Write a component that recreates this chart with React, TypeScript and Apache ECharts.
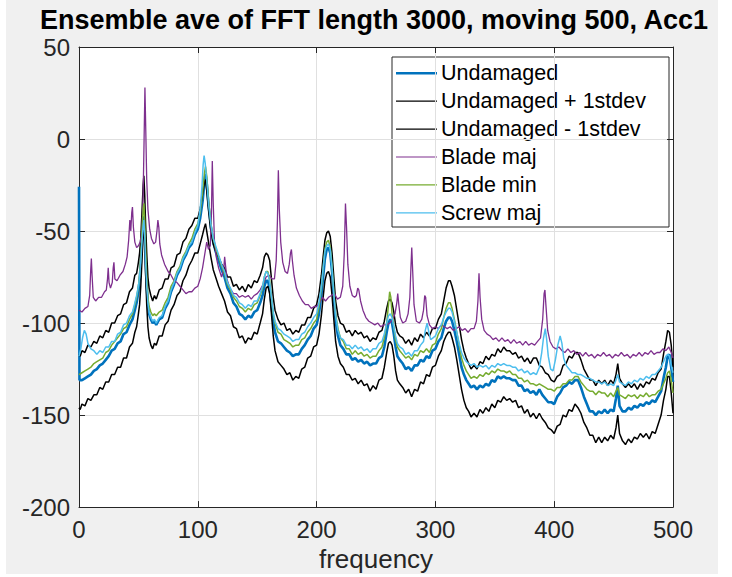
import React, { useEffect, useRef } from "react";
import * as echarts from "echarts";

type Pt = [number, number];

const FONT = '"Liberation Sans", Arial, Helvetica, sans-serif';
const TITLE = "Ensemble ave of FFT length 3000, moving 500, Acc1";
const X_LABEL = "frequency";

const seriesNames = [
  "Undamaged",
  "Undamaged + 1stdev",
  "Undamaged - 1stdev",
  "Blade maj",
  "Blade min",
  "Screw maj",
];
const seriesColors = ["#0072BD", "#000000", "#000000", "#7E2F8E", "#77AC30", "#4DBEEE"];
const seriesWidths = [2.6, 1.5, 1.5, 1.3, 1.5, 1.5];

const xTicks = [0, 100, 200, 300, 400, 500];
const yTicks = [-200, -150, -100, -50, 0, 50];

// [frequency, dB]
const undamaged: Pt[] = [
  [0,-26],[0.4,-131],[2.5,-131],[5,-130],[7.5,-129],[10,-128],[12.5,-126],[15,-125],[17.5,-123],[20,-122],[22.5,-120],[25,-118],[27.5,-115],[30,-114],[32.5,-111],[35,-110],[37.5,-106],[40,-105],[42.5,-101],[45,-98],[47,-93],[48.5,-89],[50,-83],[51,-77],[52,-68],[53,-56],[54,-45],[54.6,-42],[55.3,-50],[56,-65],[57,-80],[58,-90],[59,-95],[60.5,-98],[62,-100],[63.5,-99],[65,-101],[67.5,-98],[70,-97],[72.5,-92],[75,-89],[77.5,-83],[80,-79],[82.5,-74],[85,-71],[87.5,-66],[90,-63],[92.5,-59],[95,-57],[97.5,-52],[100,-49],[102,-43],[104,-34],[105.5,-24],[106.5,-19],[107.5,-24],[109,-36],[111,-48],[113,-56],[115,-61],[117.5,-66],[120,-71],[122.5,-75],[125,-81],[127.5,-84],[130,-89],[132.5,-91],[135,-95],[137.5,-96],[140,-98],[142.5,-96],[145,-97],[147.5,-94],[150,-93],[152.5,-89],[154.5,-85],[156,-80],[157.5,-77],[159,-77],[160.5,-81],[162,-90],[163.5,-99],[165,-105],[167.5,-110],[170,-111],[172.5,-113],[175,-115],[177.5,-116],[180,-118],[182.5,-117],[185,-117],[187.5,-114],[190,-112],[192.5,-109],[195,-107],[197.5,-103],[200,-101],[202,-95],[204,-85],[205.5,-75],[207,-65],[208.5,-60],[210,-59],[211.5,-62],[213,-72],[214.5,-86],[216,-99],[218,-107],[220,-112],[222.5,-114],[225,-117],[227.5,-117],[230,-120],[232.5,-119],[235,-121],[237.5,-120],[240,-122],[242.5,-121],[245,-123],[247.5,-122],[250,-122],[252.5,-119],[255,-118],[257,-113],[259,-105],[260.5,-100],[262,-98],[263.5,-100],[265,-106],[266.5,-113],[268,-118],[270,-120],[272.5,-122],[275,-125],[277.5,-124],[280,-126],[282.5,-123],[285,-123],[287.5,-120],[290,-121],[292.5,-118],[295,-119],[297.5,-115],[300,-114],[302.5,-110],[305,-108],[307,-103],[309,-99],[311,-97],[312.5,-97],[314,-99],[316,-104],[318,-110],[320,-117],[322,-124],[324,-128],[326,-131],[328,-133],[330,-135],[332.5,-134],[335,-136],[337.5,-134],[340,-135],[342.5,-133],[345,-134],[347.5,-131],[350,-132],[352.5,-129],[355,-130],[357.5,-129],[360,-130],[362.5,-130],[365,-131],[367.5,-131],[370,-134],[372.5,-134],[375,-137],[377.5,-136],[380,-138],[382.5,-137],[385,-139],[387.5,-136],[390,-139],[392.5,-141],[395,-143],[397.5,-143],[400,-144],[402.5,-140],[405,-138],[407.5,-135],[410,-134],[412.5,-132],[415,-133],[417.5,-131],[420,-131],[422.5,-135],[425,-140],[427.5,-144],[430,-148],[432.5,-148],[435,-150],[437.5,-148],[440,-149],[442.5,-147],[445,-149],[447.5,-147],[450,-148],[452,-141],[453.5,-134],[455,-145],[457.5,-148],[460,-148],[462.5,-146],[465,-147],[467.5,-145],[470,-146],[472.5,-144],[475,-145],[477.5,-143],[480,-144],[482.5,-142],[485,-143],[487.5,-140],[490,-137],[492,-130],[494,-124],[495.5,-118],[497,-117],[498.5,-124],[500,-132],
];

const upperStd: Pt[] = [
  [0,-117],[1,-118],[2.5,-115],[5,-116],[7.5,-112],[10,-113],[12.5,-110],[15,-111],[17.5,-107],[20,-108],[22.5,-104],[25,-105],[27.5,-100],[30,-100],[32.5,-96],[35,-95],[37.5,-90],[40,-89],[42.5,-83],[45,-81],[47,-74],[48.5,-73],[50,-67],[51,-62],[52,-54],[53,-40],[54,-25],[54.6,-20],[55.3,-30],[56,-45],[57,-62],[58,-75],[59,-81],[60.5,-85],[62,-88],[63.5,-85],[65,-87],[67.5,-82],[70,-81],[72.5,-76],[75,-76],[77.5,-70],[80,-69],[82.5,-63],[85,-62],[87.5,-56],[90,-54],[92.5,-49],[95,-47],[97.5,-43],[100,-43],[102,-38],[104,-30],[105.5,-24],[106.5,-22],[107.5,-28],[109,-38],[111,-50],[113,-57],[115,-61],[117.5,-64],[120,-68],[122.5,-70],[125,-75],[127.5,-75],[130,-80],[132.5,-79],[135,-82],[137.5,-80],[140,-83],[142.5,-79],[145,-81],[147.5,-77],[150,-78],[152.5,-74],[154.5,-70],[156,-64],[157.5,-62],[159,-63],[160.5,-66],[162,-76],[163.5,-86],[165,-93],[167.5,-98],[170,-101],[172.5,-100],[175,-104],[177.5,-103],[180,-106],[182.5,-104],[185,-105],[187.5,-101],[190,-101],[192.5,-97],[195,-97],[197.5,-92],[200,-90],[202,-84],[204,-74],[205.5,-64],[207,-55],[208.5,-51],[210,-50],[211.5,-53],[213,-62],[214.5,-75],[216,-88],[218,-96],[220,-100],[222.5,-101],[225,-105],[227.5,-104],[230,-107],[232.5,-104],[235,-106],[237.5,-105],[240,-108],[242.5,-107],[245,-110],[247.5,-108],[250,-109],[252.5,-105],[255,-104],[257,-99],[259,-92],[260.5,-88],[262,-87],[263.5,-89],[265,-94],[266.5,-101],[268,-105],[270,-107],[272.5,-108],[275,-111],[277.5,-109],[280,-112],[282.5,-108],[285,-110],[287.5,-106],[290,-108],[292.5,-105],[295,-107],[297.5,-103],[300,-103],[302.5,-98],[305,-95],[307,-88],[309,-81],[311,-77],[312.5,-77],[314,-80],[316,-85],[318,-93],[320,-101],[322,-109],[324,-115],[326,-119],[328,-122],[330,-125],[332.5,-123],[335,-125],[337.5,-121],[340,-122],[342.5,-118],[345,-120],[347.5,-117],[350,-118],[352.5,-114],[355,-116],[357.5,-113],[360,-115],[362.5,-115],[365,-117],[367.5,-116],[370,-119],[372.5,-118],[375,-121],[377.5,-119],[380,-122],[382.5,-119],[385,-119],[387.5,-123],[390,-124],[392.5,-127],[395,-128],[397.5,-131],[400,-132],[402.5,-129],[405,-128],[407.5,-123],[410,-122],[412.5,-118],[415,-119],[417.5,-116],[420,-116],[422.5,-120],[425,-125],[427.5,-128],[430,-131],[432.5,-131],[435,-134],[437.5,-131],[440,-133],[442.5,-131],[445,-134],[447.5,-131],[450,-133],[452,-128],[453.5,-122],[455,-130],[457.5,-133],[460,-135],[462.5,-133],[465,-135],[467.5,-133],[470,-136],[472.5,-133],[475,-135],[477.5,-132],[480,-133],[482.5,-130],[485,-131],[487.5,-127],[490,-125],[492,-117],[494,-110],[495.5,-104],[497,-105],[498.5,-112],[500,-124],
];

const lowerStd: Pt[] = [
  [0,-146],[1,-147],[2.5,-144],[5,-145],[7.5,-141],[10,-142],[12.5,-139],[15,-139],[17.5,-135],[20,-136],[22.5,-132],[25,-132],[27.5,-128],[30,-128],[32.5,-124],[35,-124],[37.5,-119],[40,-119],[42.5,-113],[45,-111],[47,-105],[48.5,-102],[50,-95],[51,-90],[52,-80],[53,-66],[54,-52],[54.6,-47],[55.3,-55],[56,-72],[57,-90],[58,-102],[59,-108],[60.5,-112],[62,-114],[63.5,-111],[65,-112],[67.5,-107],[70,-107],[72.5,-101],[75,-99],[77.5,-93],[80,-90],[82.5,-85],[85,-83],[87.5,-77],[90,-74],[92.5,-69],[95,-66],[97.5,-62],[100,-62],[102,-57],[104,-52],[105.5,-48],[106.5,-46],[107.5,-50],[109,-56],[111,-64],[113,-71],[115,-75],[117.5,-80],[120,-84],[122.5,-88],[125,-94],[127.5,-96],[130,-102],[132.5,-103],[135,-108],[137.5,-107],[140,-111],[142.5,-108],[145,-109],[147.5,-105],[150,-106],[152.5,-100],[154.5,-95],[156,-87],[157.5,-81],[159,-80],[160.5,-84],[162,-95],[163.5,-107],[165,-115],[167.5,-121],[170,-123],[172.5,-125],[175,-128],[177.5,-127],[180,-131],[182.5,-129],[185,-130],[187.5,-125],[190,-124],[192.5,-119],[195,-118],[197.5,-113],[200,-112],[202,-106],[204,-96],[205.5,-86],[207,-77],[208.5,-73],[210,-72],[211.5,-75],[213,-85],[214.5,-98],[216,-110],[218,-118],[220,-122],[222.5,-124],[225,-128],[227.5,-128],[230,-131],[232.5,-130],[235,-133],[237.5,-131],[240,-134],[242.5,-133],[245,-137],[247.5,-134],[250,-136],[252.5,-131],[255,-130],[257,-124],[259,-116],[260.5,-111],[262,-110],[263.5,-112],[265,-118],[266.5,-126],[268,-131],[270,-133],[272.5,-135],[275,-138],[277.5,-136],[280,-140],[282.5,-136],[285,-137],[287.5,-132],[290,-133],[292.5,-128],[295,-129],[297.5,-124],[300,-123],[302.5,-118],[305,-115],[307,-110],[309,-107],[311,-105],[312.5,-105],[314,-108],[316,-113],[318,-120],[320,-128],[322,-136],[324,-142],[326,-146],[328,-148],[330,-151],[332.5,-149],[335,-151],[337.5,-147],[340,-149],[342.5,-146],[345,-148],[347.5,-144],[350,-146],[352.5,-142],[355,-143],[357.5,-140],[360,-142],[362.5,-141],[365,-143],[367.5,-142],[370,-146],[372.5,-145],[375,-149],[377.5,-147],[380,-151],[382.5,-149],[385,-152],[387.5,-149],[390,-152],[392.5,-154],[395,-157],[397.5,-158],[400,-160],[402.5,-156],[405,-155],[407.5,-150],[410,-151],[412.5,-147],[415,-148],[417.5,-144],[420,-146],[422.5,-149],[425,-154],[427.5,-157],[430,-161],[432.5,-161],[435,-165],[437.5,-162],[440,-165],[442.5,-162],[445,-164],[447.5,-161],[450,-163],[452,-157],[453.5,-150],[455,-160],[457.5,-164],[460,-166],[462.5,-163],[465,-165],[467.5,-162],[470,-163],[472.5,-160],[475,-162],[477.5,-160],[480,-163],[482.5,-159],[485,-160],[487.5,-155],[490,-150],[492,-142],[494,-136],[495.5,-129],[497,-129],[498.5,-138],[500,-149],
];

const bladeMaj: Pt[] = [
  [0,-93],[2.5,-94],[5,-92],[7.5,-91],[9,-85],[9.8,-72],[10.4,-65],[11,-74],[12,-86],[14,-88],[16.5,-86],[19,-86],[21.5,-83],[23,-82],[24,-76],[24.6,-70],[25.3,-78],[26.5,-81],[28,-78],[28.8,-70],[29.4,-67],[30.2,-76],[32,-77],[34.5,-74],[37,-72],[39,-68],[40.5,-64],[41.8,-55],[42.8,-44],[43.6,-50],[44.4,-40],[45,-37],[45.8,-48],[47,-56],[48.5,-59],[50,-58],[51.5,-56],[53,-50],[54,-30],[54.8,0],[55.5,28],[56.2,5],[57,-22],[58,-38],[59.5,-49],[61,-54],[63,-57],[64.5,-56],[65.6,-50],[66.4,-44],[67.2,-48],[68,-57],[69.5,-63],[72,-68],[75,-72],[77.5,-74],[80,-77],[82.5,-78],[85,-80],[87.5,-82],[90,-84],[92.5,-83],[95,-83],[97.5,-81],[100,-80],[102,-76],[104,-70],[106,-62],[107.5,-56],[109,-60],[110.5,-58],[111.5,-40],[112.2,-12],[113,-35],[114,-55],[115.5,-64],[117.5,-70],[120,-75],[121.8,-71],[122.6,-64],[123.4,-69],[124.5,-76],[127,-81],[130,-84],[132.5,-84],[135,-86],[137.5,-85],[140,-86],[142.5,-85],[145,-87],[147.5,-85],[150,-84],[152.5,-82],[155,-79],[157.5,-75],[160,-74],[162.5,-76],[164.5,-76],[166,-66],[167,-45],[167.8,-17],[168.6,-38],[169.8,-56],[171.5,-67],[173.5,-72],[175.5,-73],[177,-68],[178,-62],[178.8,-60],[179.6,-66],[181,-74],[183,-81],[185.5,-85],[188,-88],[190.5,-90],[193,-90],[195.5,-92],[198,-91],[200,-91],[202.5,-89],[205,-86],[207.5,-88],[210,-86],[212.5,-85],[215,-84],[217.5,-87],[220,-86],[222,-80],[223.3,-62],[224.3,-35],[225.2,-48],[226.3,-68],[228,-80],[230,-85],[232,-86],[233.5,-85],[234.6,-81],[235.5,-82],[237,-88],[239,-93],[241.5,-97],[244,-99],[246.5,-100],[249,-101],[251.5,-100],[254,-102],[256.5,-101],[259,-101],[261.5,-100],[264,-98],[266,-95],[267.5,-89],[268.3,-84],[269.2,-90],[270.5,-97],[272.5,-100],[275,-99],[277,-95],[278.5,-86],[279.4,-70],[280.1,-59],[280.9,-72],[282,-90],[284,-99],[286.5,-100],[288.5,-98],[290,-93],[291,-85],[291.8,-86],[293,-96],[295,-101],[297.5,-103],[300,-102],[302.5,-103],[305,-101],[307.5,-102],[310,-103],[312.5,-102],[315,-104],[317.5,-103],[320,-102],[322.5,-104],[325,-103],[327.5,-105],[330,-103],[332.5,-103],[334.5,-99],[335.8,-88],[336.7,-73],[337.6,-86],[339,-98],[341,-104],[343.5,-106],[346,-107],[348.5,-109],[351,-108],[353.5,-110],[356,-108],[358.5,-110],[361,-109],[363.5,-111],[366,-109],[368.5,-111],[371,-110],[373.5,-112],[376,-110],[378.5,-112],[381,-111],[383.5,-112],[386,-110],[388.5,-108],[390.3,-98],[391.5,-84],[392.2,-82],[393,-90],[394.5,-104],[396.5,-110],[399,-113],[401.5,-114],[404,-113],[406.5,-115],[409,-116],[411.5,-114],[414,-116],[416.5,-115],[419,-117],[421.5,-116],[424,-118],[426.5,-116],[429,-118],[431.5,-117],[434,-119],[436.5,-117],[439,-118],[441.5,-116],[444,-118],[446.5,-117],[449,-119],[451.5,-117],[454,-118],[456.5,-116],[459,-118],[461.5,-117],[464,-119],[466.5,-117],[469,-118],[471.5,-116],[474,-118],[476.5,-116],[479,-117],[481.5,-115],[484,-117],[486.5,-116],[489,-116],[491.5,-114],[494,-115],[496.5,-113],[498.5,-116],[500,-119],
];

const bladeMin: Pt[] = [
  [0,-128],[2.5,-127],[5,-126],[7.5,-125],[10,-124],[12.5,-122],[15,-121],[17.5,-120],[20,-119],[22.5,-116],[25,-115],[27.5,-112],[30,-110],[32.5,-108],[35,-106],[37.5,-103],[40,-102],[42.5,-98],[45,-95],[47,-90],[48.5,-86],[50,-80],[51,-74],[52,-64],[53,-50],[54,-38],[54.6,-35],[55.3,-44],[56,-58],[57,-75],[58,-86],[59,-91],[60.5,-94],[62,-96],[63.5,-95],[65,-96],[67.5,-94],[70,-93],[72.5,-89],[75,-86],[77.5,-80],[80,-77],[82.5,-72],[85,-69],[87.5,-64],[90,-61],[92.5,-57],[95,-54],[97.5,-49],[100,-46],[102,-40],[104,-29],[105.5,-19],[106.5,-15],[107.5,-20],[109,-33],[111,-46],[113,-54],[115,-59],[117.5,-64],[120,-69],[122.5,-73],[125,-79],[127.5,-82],[130,-86],[132.5,-88],[135,-91],[137.5,-92],[140,-94],[142.5,-92],[145,-93],[147.5,-90],[150,-89],[152.5,-85],[154.5,-81],[156,-75],[157.5,-72],[159,-72],[160.5,-77],[162,-86],[163.5,-95],[165,-100],[167.5,-105],[170,-106],[172.5,-109],[175,-110],[177.5,-111],[180,-113],[182.5,-112],[185,-112],[187.5,-109],[190,-108],[192.5,-105],[195,-103],[197.5,-100],[200,-98],[202,-91],[204,-81],[205.5,-70],[207,-60],[208.5,-56],[210,-55],[211.5,-59],[213,-69],[214.5,-83],[216,-95],[218,-103],[220,-108],[222.5,-110],[225,-114],[227.5,-114],[230,-117],[232.5,-115],[235,-117],[237.5,-116],[240,-118],[242.5,-117],[245,-119],[247.5,-118],[250,-118],[252.5,-115],[255,-113],[257,-108],[259,-100],[260.5,-90],[261.5,-83],[262.5,-86],[263.5,-95],[265,-102],[266.5,-109],[268,-113],[270,-115],[272.5,-117],[275,-119],[277.5,-118],[280,-120],[282.5,-117],[285,-118],[287.5,-115],[290,-116],[292.5,-114],[295,-116],[297.5,-112],[300,-111],[302.5,-106],[305,-103],[307,-97],[309,-92],[311,-89],[312.5,-89],[314,-92],[316,-98],[318,-105],[320,-112],[322,-119],[324,-123],[326,-126],[328,-128],[330,-130],[332.5,-129],[335,-130],[337.5,-128],[340,-129],[342.5,-127],[345,-128],[347.5,-126],[350,-127],[352.5,-125],[355,-126],[357.5,-126],[360,-127],[362.5,-126],[365,-128],[367.5,-128],[370,-130],[372.5,-130],[375,-132],[377.5,-131],[380,-133],[382.5,-133],[385,-134],[387.5,-133],[390,-134],[392.5,-135],[395,-136],[397.5,-136],[400,-137],[402.5,-135],[405,-135],[407.5,-133],[410,-133],[412.5,-131],[415,-131],[417.5,-129],[420,-129],[422.5,-132],[425,-134],[427.5,-136],[430,-137],[432.5,-137],[435,-139],[437.5,-137],[440,-138],[442.5,-138],[445,-140],[447.5,-138],[450,-140],[452,-137],[453.5,-135],[455,-139],[457.5,-140],[460,-141],[462.5,-139],[465,-140],[467.5,-139],[470,-141],[472.5,-139],[475,-140],[477.5,-138],[480,-140],[482.5,-139],[485,-139],[487.5,-137],[490,-136],[492,-133],[494,-130],[495.5,-127],[497,-126],[498.5,-131],[500,-138],
];

const screwMaj: Pt[] = [
  [0,-118],[1.5,-114],[3,-108],[4.5,-104],[6,-106],[7.5,-111],[10,-114],[12.5,-115],[15,-117],[17.5,-115],[20,-116],[22.5,-113],[25,-113],[27.5,-110],[30,-110],[32.5,-106],[35,-105],[37.5,-101],[40,-100],[42.5,-96],[45,-94],[47,-89],[48.5,-85],[50,-80],[51,-75],[52,-67],[53,-56],[54,-47],[54.6,-44],[55.3,-52],[56,-66],[57,-80],[58,-89],[59,-94],[60.5,-97],[62,-99],[63.5,-98],[65,-100],[67.5,-97],[70,-96],[72.5,-91],[75,-88],[77.5,-82],[80,-78],[82.5,-73],[85,-70],[87.5,-65],[90,-62],[92.5,-58],[95,-56],[97.5,-51],[100,-47],[102,-38],[103.5,-26],[104.5,-14],[105.3,-9],[106.2,-13],[107.5,-22],[109,-35],[111,-46],[113,-54],[115,-58],[117.5,-63],[120,-68],[122.5,-72],[125,-78],[127.5,-81],[130,-85],[132.5,-86],[135,-89],[137.5,-90],[140,-92],[142.5,-90],[145,-91],[147.5,-88],[150,-88],[152.5,-84],[154.5,-80],[156,-75],[157.5,-72],[159,-73],[160.5,-78],[162,-86],[163.5,-94],[165,-99],[167.5,-103],[170,-104],[172.5,-106],[175,-107],[177.5,-108],[180,-110],[182.5,-109],[185,-109],[187.5,-106],[190,-105],[192.5,-102],[195,-100],[197.5,-97],[200,-95],[202,-89],[204,-80],[205.5,-70],[207,-61],[208.5,-58],[210,-57],[211.5,-60],[213,-70],[214.5,-84],[216,-96],[218,-104],[220,-108],[222.5,-109],[225,-112],[227.5,-112],[230,-114],[232.5,-112],[235,-114],[237.5,-113],[240,-115],[242.5,-114],[245,-116],[247.5,-114],[250,-114],[252.5,-111],[255,-110],[257,-106],[259,-100],[260.5,-96],[262,-95],[263.5,-97],[265,-102],[266.5,-107],[268,-111],[270,-113],[272.5,-114],[275,-117],[277.5,-116],[280,-118],[282.5,-115],[285,-115],[287.5,-112],[290,-110],[291.5,-104],[293,-100],[294.5,-105],[296,-109],[298,-108],[300,-107],[302.5,-103],[305,-101],[307,-97],[309,-94],[311,-92],[312.5,-92],[314,-94],[316,-99],[318,-105],[320,-111],[322,-116],[324,-119],[326,-121],[328,-122],[330,-123],[332.5,-122],[335,-124],[337.5,-123],[340,-124],[342.5,-123],[345,-125],[347.5,-123],[350,-124],[352.5,-122],[355,-123],[357.5,-122],[360,-123],[362.5,-123],[365,-124],[367.5,-124],[370,-126],[372.5,-125],[375,-127],[377.5,-126],[380,-128],[382.5,-127],[385,-128],[387.5,-124],[389.5,-116],[391,-108],[392.5,-103],[393.5,-108],[395,-118],[397,-125],[399,-126],[401,-120],[403,-112],[405,-107],[406.5,-111],[408,-119],[410,-123],[412.5,-125],[415,-127],[417.5,-127],[420,-128],[422.5,-128],[425,-129],[427.5,-130],[430,-130],[432.5,-131],[435,-132],[437.5,-132],[440,-133],[442.5,-132],[445,-134],[447.5,-133],[450,-134],[452,-131],[453.5,-128],[455,-132],[457.5,-133],[460,-134],[462.5,-132],[465,-133],[467.5,-131],[470,-132],[472.5,-130],[475,-131],[477.5,-129],[480,-130],[482.5,-128],[485,-128],[487.5,-126],[490,-124],[492,-121],[494,-118],[495.5,-117],[497,-118],[498.5,-123],[500,-127],
];

const seriesData: Pt[][] = [undamaged, upperStd, lowerStd, bladeMaj, bladeMin, screwMaj];

const AXIS_COLOR = "#262626";
const GRID_COLOR = "#e0e0e0";

// plot box in pixels
const PLOT = { left: 79, top: 47, right: 673, bottom: 514 };

export default function App() {
  const ref = useRef<HTMLDivElement | null>(null);

  useEffect(() => {
    if (!ref.current) return;
    const chart = echarts.init(ref.current, undefined, { renderer: "svg" });

    const legendX = 392;
    const legendY = 57;
    const legendW = 277;
    const legendH = 170;
    const rowGap = 27.9;
    const firstRow = 73.3;

    const legendChildren: any[] = [
      {
        type: "rect",
        shape: { x: legendX, y: legendY, width: legendW, height: legendH },
        style: { fill: "#ffffff", stroke: AXIS_COLOR, lineWidth: 1 },
      },
    ];
    seriesNames.forEach((name, i) => {
      const y = firstRow + i * rowGap;
      legendChildren.push({
        type: "line",
        shape: { x1: 396, y1: y, x2: 437, y2: y },
        style: { stroke: seriesColors[i], lineWidth: i === 0 ? 2.4 : 1.2 },
      });
      legendChildren.push({
        type: "text",
        x: 441,
        y,
        style: {
          text: name,
          fontSize: 21.5,
          fontFamily: FONT,
          fill: "#000000",
          verticalAlign: "middle",
          align: "left",
        },
      });
    });

    const tickStyle = { show: true, inside: true, length: 6, lineStyle: { color: AXIS_COLOR, width: 1 } };
    const lineStyle = { show: true, onZero: false, lineStyle: { color: AXIS_COLOR, width: 1 } };

    chart.setOption({
      animation: false,
      backgroundColor: "transparent",
      grid: {
        left: PLOT.left,
        top: PLOT.top,
        right: 732 - PLOT.right,
        bottom: 577 - PLOT.bottom,
        show: true,
        backgroundColor: "#ffffff",
        borderWidth: 0,
      },
      xAxis: [
        {
          type: "value",
          position: "bottom",
          min: xTicks[0],
          max: xTicks[xTicks.length - 1],
          interval: 100,
          axisLine: lineStyle,
          axisTick: tickStyle,
          axisLabel: { fontSize: 24, color: AXIS_COLOR, fontFamily: FONT, margin: 10 },
          splitLine: { show: true, lineStyle: { color: GRID_COLOR, width: 1 } },
          name: X_LABEL,
          nameLocation: "middle",
          nameGap: 37,
          nameTextStyle: { fontSize: 26, color: AXIS_COLOR, fontFamily: FONT },
        },
        {
          type: "value",
          position: "top",
          min: xTicks[0],
          max: xTicks[xTicks.length - 1],
          interval: 100,
          axisLine: lineStyle,
          axisTick: tickStyle,
          axisLabel: { show: false },
          splitLine: { show: false },
        },
      ],
      yAxis: [
        {
          type: "value",
          position: "left",
          min: yTicks[0],
          max: yTicks[yTicks.length - 1],
          interval: 50,
          axisLine: lineStyle,
          axisTick: tickStyle,
          axisLabel: { fontSize: 24, color: AXIS_COLOR, fontFamily: FONT, margin: 9 },
          splitLine: { show: true, lineStyle: { color: GRID_COLOR, width: 1 } },
        },
        {
          type: "value",
          position: "right",
          min: yTicks[0],
          max: yTicks[yTicks.length - 1],
          interval: 50,
          axisLine: lineStyle,
          axisTick: tickStyle,
          axisLabel: { show: false },
          splitLine: { show: false },
        },
      ],
      series: seriesNames.map((name, i) => ({
        name,
        type: "line",
        xAxisIndex: 0,
        yAxisIndex: 0,
        data: seriesData[i],
        showSymbol: false,
        symbol: "none",
        clip: true,
        z: 2 + i,
        lineStyle: { color: seriesColors[i], width: seriesWidths[i] },
        itemStyle: { color: seriesColors[i] },
      })),
      graphic: [
        {
          type: "text",
          x: 374,
          y: 20,
          z: 100,
          style: {
            text: TITLE,
            fontSize: 27,
            fontWeight: "bold",
            fontFamily: FONT,
            fill: "#000000",
            align: "center",
            verticalAlign: "middle",
          },
        },
        { type: "group", z: 100, children: legendChildren },
      ],
    });

    return () => chart.dispose();
  }, []);

  return (
    <div style={{ position: "absolute", left: 0, top: 0, width: 732, height: 577, background: "#ffffff" }}>
      <div style={{ position: "absolute", left: 6, top: 0, width: 712, height: 574, background: "#f0f0f0" }} />
      <div ref={ref} style={{ position: "absolute", left: 0, top: 0, width: 732, height: 577 }} />
    </div>
  );
}
